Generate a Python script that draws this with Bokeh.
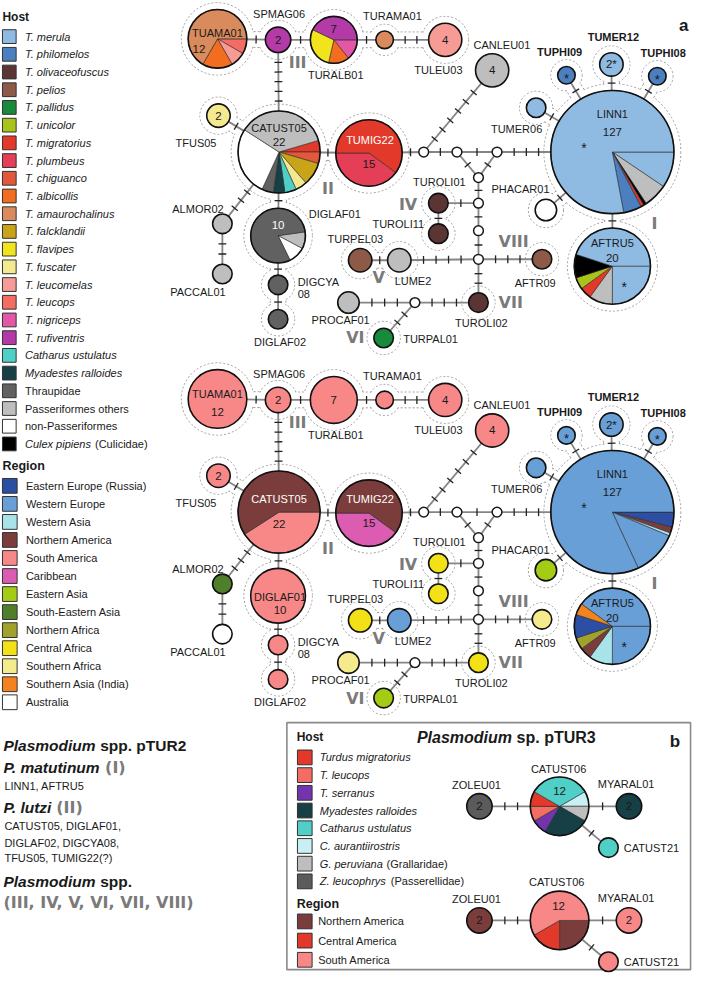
import math
from bokeh.plotting import figure
from bokeh.models import Range1d
from bokeh.core.properties import value
from bokeh.embed import file_html
from bokeh.resources import INLINE

# ======================= DATA =======================
host_names = ["T. merula", "T. philomelos", "T. olivaceofuscus", "T. pelios", "T. pallidus",
              "T. unicolor", "T. migratorius", "T. plumbeus", "T. chiguanco", "T. albicollis",
              "T. amaurochalinus", "T. falcklandii", "T. flavipes", "T. fuscater", "T. leucomelas",
              "T. leucops", "T. nigriceps", "T. rufiventris", "Catharus ustulatus",
              "Myadestes ralloides", "Thraupidae", "Passeriformes others", "non-Passeriformes",
              "Culex pipiens"]
host_colors = ["#8fbbe3", "#4b7fc0", "#5b3434", "#8e5a48", "#178a3c", "#a8c41c", "#e2392a",
               "#e53e57", "#e2583c", "#f26d1f", "#d98b5d", "#c9a318", "#f1e31c", "#f4e98e",
               "#f79b97", "#f36d63", "#e457a6", "#b43aa8", "#4fcfc5", "#163f46", "#616161",
               "#bebebe", "#ffffff", "#000000"]

region_names = ["Eastern Europe (Russia)", "Western Europe", "Western Asia", "Northern America",
                "South America", "Caribbean", "Eastern Asia", "South-Eastern Asia",
                "Northern Africa", "Central Africa", "Southern Africa", "Southern Asia (India)",
                "Australia"]
region_colors = ["#2c4ea3", "#689fd7", "#a9e3ea", "#7b3c3c", "#f88888", "#db5cb1", "#a4cc14",
                 "#4f7f2b", "#a0a22c", "#f1e116", "#f5eb8c", "#f3831f", "#ffffff"]

haplotypes = ["TUAMA01", "SPMAG06", "TURALB01", "TURAMA01", "TULEU03", "CANLEU01", "TFUS05",
              "CATUST05", "TUMIG22", "DIGLAF01", "DIGCYA08", "DIGLAF02", "ALMOR02", "PACCAL01",
              "TUROLI01", "TUROLI11", "TURPEL03", "LUME2", "PROCAF01", "TURPAL01", "TUROLI02",
              "AFTR09", "LINN1", "TUMER06", "TUPHI09", "TUMER12", "TUPHI08", "PHACAR01", "AFTRU5"]
hap_counts = [12, 2, 7, 1, 4, 4, 2, 22, 15, 10, 1, 1, 1, 1, 1, 1, 1, 1, 1, 1, 1, 1, 127, 1, 1, 2, 1, 1, 20]

# slices (category, count) in clockwise order, with starting angle (deg, clockwise from east)
host_slices = {
    "TUAMA01": (0, [("T. leucops", 1), ("T. leucomelas", 1), ("T. albicollis", 2), ("T. amaurochalinus", 8)]),
    "SPMAG06": (0, [("T. rufiventris", 2)]),
    "TURALB01": (0, [("T. nigriceps", 1), ("T. albicollis", 1), ("T. flavipes", 2), ("T. rufiventris", 3)]),
    "TURAMA01": (0, [("T. amaurochalinus", 1)]),
    "TULEU03": (0, [("T. leucomelas", 4)]),
    "CANLEU01": (0, [("Passeriformes others", 4)]),
    "TFUS05": (0, [("T. fuscater", 2)]),
    "CATUST05": (-16.4, [("T. migratorius", 1), ("T. chiguanco", 1), ("T. falcklandii", 2),
                         ("T. fuscater", 1), ("Catharus ustulatus", 1), ("Myadestes ralloides", 1),
                         ("Thraupidae", 1), ("non-Passeriformes", 6), ("Passeriformes others", 8)]),
    "TUMIG22": (36, [("T. plumbeus", 6), ("T. migratorius", 9)]),
    "DIGLAF01": (-8, [("Passeriformes others", 1), ("non-Passeriformes", 1), ("Thraupidae", 8)]),
    "DIGCYA08": (0, [("Thraupidae", 1)]),
    "DIGLAF02": (0, [("Thraupidae", 1)]),
    "ALMOR02": (0, [("Passeriformes others", 1)]),
    "PACCAL01": (0, [("Passeriformes others", 1)]),
    "TUROLI01": (0, [("T. olivaceofuscus", 1)]),
    "TUROLI11": (0, [("T. olivaceofuscus", 1)]),
    "TURPEL03": (0, [("T. pelios", 1)]),
    "LUME2": (0, [("Passeriformes others", 1)]),
    "PROCAF01": (0, [("Passeriformes others", 1)]),
    "TURPAL01": (0, [("T. pallidus", 1)]),
    "TUROLI02": (0, [("T. olivaceofuscus", 1)]),
    "AFTR09": (0, [("T. pelios", 1)]),
    "LINN1": (0, [("T. merula", 12), ("Passeriformes others", 8), ("Culex pipiens", 1),
                  ("T. migratorius", 1), ("T. philomelos", 6), ("T. merula", 99)]),
    "TUMER06": (0, [("T. merula", 1)]),
    "TUPHI09": (0, [("T. philomelos", 1)]),
    "TUMER12": (0, [("T. merula", 2)]),
    "TUPHI08": (0, [("T. philomelos", 1)]),
    "PHACAR01": (0, [("non-Passeriformes", 1)]),
    "AFTRU5": (0, [("T. merula", 5), ("Passeriformes others", 2), ("T. migratorius", 1),
                   ("T. unicolor", 1), ("Culex pipiens", 2), ("T. merula", 9)]),
}
region_slices = {
    "TUAMA01": (0, [("South America", 12)]),
    "SPMAG06": (0, [("South America", 2)]),
    "TURALB01": (0, [("South America", 7)]),
    "TURAMA01": (0, [("South America", 1)]),
    "TULEU03": (0, [("South America", 4)]),
    "CANLEU01": (0, [("South America", 4)]),
    "TFUS05": (0, [("South America", 2)]),
    "CATUST05": (0, [("South America", 9), ("Northern America", 13)]),
    "TUMIG22": (36, [("Caribbean", 6), ("Northern America", 9)]),
    "DIGLAF01": (0, [("South America", 10)]),
    "DIGCYA08": (0, [("South America", 1)]),
    "DIGLAF02": (0, [("South America", 1)]),
    "ALMOR02": (0, [("South-Eastern Asia", 1)]),
    "PACCAL01": (0, [("Australia", 1)]),
    "TUROLI01": (0, [("Central Africa", 1)]),
    "TUROLI11": (0, [("Central Africa", 1)]),
    "TURPEL03": (0, [("Central Africa", 1)]),
    "LUME2": (0, [("Western Europe", 1)]),
    "PROCAF01": (0, [("Southern Africa", 1)]),
    "TURPAL01": (0, [("Eastern Asia", 1)]),
    "TUROLI02": (0, [("Central Africa", 1)]),
    "AFTR09": (0, [("Southern Africa", 1)]),
    "LINN1": (0, [("Eastern Europe (Russia)", 5), ("Northern America", 2), ("Western Asia", 1),
                  ("Western Europe", 15), ("Western Europe", 104)]),
    "TUMER06": (0, [("Western Europe", 1)]),
    "TUPHI09": (0, [("Western Europe", 1)]),
    "TUMER12": (0, [("Western Europe", 2)]),
    "TUPHI08": (0, [("Western Europe", 1)]),
    "PHACAR01": (0, [("Eastern Asia", 1)]),
    "AFTRU5": (0, [("Western Europe", 5), ("Western Asia", 2), ("Northern America", 1),
                   ("Northern Africa", 1), ("Eastern Europe (Russia)", 2),
                   ("Southern Asia (India)", 1), ("Western Europe", 8)]),
}
# edges: (node, node, number of mutation steps)
edges_a = [("TUAMA01", "SPMAG06", 1), ("SPMAG06", "TURALB01", 1), ("TURALB01", "TURAMA01", 1),
           ("TURAMA01", "TULEU03", 2), ("SPMAG06", "CATUST05", 5), ("TFUS05", "CATUST05", 1),
           ("CATUST05", "TUMIG22", 1), ("CATUST05", "DIGLAF01", 1), ("DIGLAF01", "DIGCYA08", 1),
           ("DIGCYA08", "DIGLAF02", 1), ("CATUST05", "ALMOR02", 3), ("ALMOR02", "PACCAL01", 2),
           ("TUMIG22", "mv1", 1), ("mv1", "mv2", 1), ("mv2", "mv3", 1), ("mv3", "LINN1", 3),
           ("mv1", "CANLEU01", 6), ("mv2", "mv4", 1), ("mv3", "mv4", 1), ("mv4", "mv5", 1),
           ("mv5", "TUROLI01", 1), ("TUROLI01", "TUROLI11", 1), ("mv5", "mv6", 1),
           ("mv6", "mv7", 1), ("mv7", "TUROLI02", 2), ("mv7", "LUME2", 4),
           ("LUME2", "TURPEL03", 1), ("mv7", "AFTR09", 3), ("TUROLI02", "mv8", 3),
           ("mv8", "PROCAF01", 3), ("mv8", "TURPAL01", 2), ("LINN1", "TUMER06", 1),
           ("LINN1", "TUPHI09", 1), ("LINN1", "TUMER12", 1), ("LINN1", "TUPHI08", 1),
           ("LINN1", "PHACAR01", 1), ("LINN1", "AFTRU5", 1)]
clades = [["LINN1", "TUMER06", "TUPHI09", "TUMER12", "TUPHI08", "PHACAR01", "AFTRU5"],
          ["TFUS05", "CATUST05", "TUMIG22", "DIGLAF01", "DIGCYA08", "DIGLAF02"],
          ["TUAMA01", "SPMAG06", "TURALB01", "TURAMA01", "TULEU03"],
          ["TUROLI01", "TUROLI11"], ["TURPEL03", "LUME2"], ["TURPAL01"], ["TUROLI02"], ["AFTR09"]]
clade_numerals = ["I", "II", "III", "IV", "V", "VI", "VII", "VIII"]

# panel b
b_host_names = ["Turdus migratorius", "T. leucops", "T. serranus", "Myadestes ralloides",
                "Catharus ustulatus", "C. aurantiirostris", "G. peruviana", "Z. leucophrys"]
b_host_suffix = ["", "", "", "", "", "", "(Grallaridae)", "(Passerellidae)"]
b_host_colors = ["#e2392a", "#f36d63", "#7434ae", "#163f46", "#4fcfc5", "#c8eff3", "#bebebe", "#5b5b5b"]
b_region_names = ["Northern America", "Central America", "South America"]
b_region_colors = ["#7b3c3c", "#e2392a", "#f88888"]
b_haplotypes = ["ZOLEU01", "CATUST06", "MYARAL01", "CATUST21"]
b_counts = [2, 12, 2, 1]
b_host_slices = {
    "ZOLEU01": (0, [("Z. leucophrys", 2)]),
    "CATUST06": (-30, [("C. aurantiirostris", 1), ("G. peruviana", 1), ("Myadestes ralloides", 3),
                       ("T. serranus", 1), ("T. leucops", 1), ("Turdus migratorius", 1),
                       ("Catharus ustulatus", 4)]),
    "MYARAL01": (0, [("Myadestes ralloides", 2)]),
    "CATUST21": (0, [("Catharus ustulatus", 1)]),
}
b_region_slices = {
    "ZOLEU01": (0, [("Northern America", 2)]),
    "CATUST06": (0, [("Northern America", 3), ("Central America", 2), ("South America", 7)]),
    "MYARAL01": (0, [("South America", 2)]),
    "CATUST21": (0, [("South America", 1)]),
}
edges_b = [("ZOLEU01", "CATUST06", 2), ("CATUST06", "MYARAL01", 1), ("CATUST06", "CATUST21", 1)]

# ======================= LAYOUT (positions / sizes) =======================
pos_a = {
    "TUAMA01": (222, 39), "SPMAG06": (284, 40), "TURALB01": (341, 40), "TURAMA01": (393, 40),
    "TULEU03": (455, 40), "CANLEU01": (503, 71), "TFUS05": (223, 117), "CATUST05": (285, 154),
    "TUMIG22": (377, 155), "DIGLAF01": (284, 239), "DIGCYA08": (284, 289), "DIGLAF02": (284, 324),
    "ALMOR02": (227, 227), "PACCAL01": (227, 278), "TUROLI01": (448, 206), "TUROLI11": (448, 237),
    "TURPEL03": (368, 264), "LUME2": (408, 264), "PROCAF01": (356, 307), "TURPAL01": (392, 343),
    "TUROLI02": (489, 307), "AFTR09": (554, 263), "LINN1": (626, 154), "TUMER06": (548, 109),
    "TUPHI09": (579, 76), "TUMER12": (625, 65), "TUPHI08": (672, 77), "PHACAR01": (558, 213),
    "AFTRU5": (626, 270),
    "mv1": (433, 154), "mv2": (467, 154), "mv3": (508, 154), "mv4": (489, 180),
    "mv5": (489, 206), "mv6": (489, 234), "mv7": (489, 263), "mv8": (424, 307),
}
rad_a = {"TUAMA01": 30, "SPMAG06": 13, "TURALB01": 24, "TURAMA01": 9, "TULEU03": 17,
         "CANLEU01": 17, "TFUS05": 12, "CATUST05": 42, "TUMIG22": 34, "DIGLAF01": 28,
         "DIGCYA08": 10, "DIGLAF02": 10, "ALMOR02": 10, "PACCAL01": 10, "TUROLI01": 10,
         "TUROLI11": 10, "TURPEL03": 12, "LUME2": 12, "PROCAF01": 11, "TURPAL01": 10,
         "TUROLI02": 10, "AFTR09": 10, "LINN1": 63, "TUMER06": 10, "TUPHI09": 9, "TUMER12": 12,
         "TUPHI08": 9, "PHACAR01": 11, "AFTRU5": 39}
pos_b = {"ZOLEU01": (490, 819), "CATUST06": (572, 819), "MYARAL01": (643, 819), "CATUST21": (622, 861)}
rad_b = {"ZOLEU01": 13, "CATUST06": 30, "MYARAL01": 13, "CATUST21": 10}
numeral_pos = {"I": (669, 227), "II": (335, 191), "III": (304, 63), "IV": (417, 207),
               "V": (387, 282), "VI": (363, 343), "VII": (522, 307), "VIII": (525, 245)}
DY_A = 366
DY_B = 116

FONT = "Liberation Sans"
HALO = "#8e8e8e"
EDGE = "#858585"
NUMERAL = "#7a7a7a"

host_cmap = dict(zip(host_names, host_colors))
region_cmap = dict(zip(region_names, region_colors))
b_host_cmap = dict(zip(b_host_names, b_host_colors))
b_region_cmap = dict(zip(b_region_names, b_region_colors))

p = figure(width=693, height=977, x_range=Range1d(0, 709), y_range=Range1d(993, 0),
           output_backend="svg", toolbar_location=None, x_axis_type=None, y_axis_type=None,
           min_border=0, outline_line_color=None, background_fill_color="white")
p.grid.visible = False


def txt(x, y, s, size=11, style="normal", color="#1a1a1a", align="center", font=FONT):
    p.text(x=[x], y=[y], text=[s], text_font=value(font), text_font_size=value(f"{size}px"),
           text_font_style=style, text_color=color, text_align=align, text_baseline="middle")


def draw_net(pos, rad, edges, slices, cmap, dy, groups):
    P = {k: (v[0], v[1] + dy) for k, v in pos.items()}
    R = {k: rad.get(k, 5) for k in P}
    # ---- halos around clades ----
    if groups:
        hx, hy, hr = [], [], []
        lx0, ly0, lx1, ly1 = [], [], [], []
        mx0, my0, mx1, my1 = [], [], [], []
        for g in groups:
            for n in g:
                hx.append(P[n][0]); hy.append(P[n][1]); hr.append(R[n] + 7)
            for a, b, _ in edges:
                if a in g and b in g:
                    (x0, y0), (x1, y1) = P[a], P[b]
                    L = math.hypot(x1 - x0, y1 - y0)
                    ux, uy = (x1 - x0) / L, (y1 - y0) / L
                    vx, vy = -uy, ux
                    for s in (-8, 8):
                        lx0.append(x0 + s * vx); ly0.append(y0 + s * vy)
                        lx1.append(x1 + s * vx); ly1.append(y1 + s * vy)
                    mx0.append(x0); my0.append(y0); mx1.append(x1); my1.append(y1)
        p.circle(x=hx, y=hy, radius=hr, fill_color=None, line_color=HALO, line_width=0.9,
                 line_dash="2 2")
        if lx0:
            p.segment(x0=lx0, y0=ly0, x1=lx1, y1=ly1, line_color=HALO, line_width=0.9,
                      line_dash="2 2")
        p.circle(x=hx, y=hy, radius=[r - 0.6 for r in hr], fill_color="white", line_color=None)
        if mx0:
            p.segment(x0=mx0, y0=my0, x1=mx1, y1=my1, line_color="white", line_width=14.2)
    # ---- edges ----
    ex0, ey0, ex1, ey1 = [], [], [], []
    tx0, ty0, tx1, ty1 = [], [], [], []
    for a, b, n in edges:
        (x0, y0), (x1, y1) = P[a], P[b]
        ex0.append(x0); ey0.append(y0); ex1.append(x1); ey1.append(y1)
        L = math.hypot(x1 - x0, y1 - y0)
        ux, uy = (x1 - x0) / L, (y1 - y0) / L
        vx, vy = -uy, ux
        s0, s1 = R[a], L - R[b]
        for i in range(n):
            t = s0 + (s1 - s0) * (i + 1) / (n + 1)
            cx, cy = x0 + ux * t, y0 + uy * t
            tx0.append(cx - 4 * vx); ty0.append(cy - 4 * vy)
            tx1.append(cx + 4 * vx); ty1.append(cy + 4 * vy)
    p.segment(x0=ex0, y0=ey0, x1=ex1, y1=ey1, line_color=EDGE, line_width=1.8)
    p.segment(x0=tx0, y0=ty0, x1=tx1, y1=ty1, line_color="#222222", line_width=1.3)
    # ---- median vectors ----
    meds = [k for k in P if k not in slices]
    if meds:
        p.circle(x=[P[k][0] for k in meds], y=[P[k][1] for k in meds], radius=5,
                 fill_color="white", line_color="#1a1a1a", line_width=1.5)
    # ---- pies ----
    cx, cy, cr, cc = [], [], [], []
    wx, wy, wr, wa0, wa1, wc = [], [], [], [], [], []
    for k, (start, parts) in slices.items():
        x, y = P[k]
        if len(parts) == 1:
            cx.append(x); cy.append(y); cr.append(R[k]); cc.append(cmap[parts[0][0]])
            continue
        tot = sum(c for _, c in parts)
        a = start
        for cat, c in parts:
            w = 360.0 * c / tot
            wx.append(x); wy.append(y); wr.append(R[k])
            wa0.append(-math.radians(a + w)); wa1.append(-math.radians(a))
            wc.append(cmap[cat])
            a += w
    if cx:
        p.circle(x=cx, y=cy, radius=cr, fill_color=cc, line_color=None)
    if wx:
        p.wedge(x=wx, y=wy, radius=wr, start_angle=wa0, end_angle=wa1, direction="anticlock",
                fill_color=wc, line_color="#2a2a2a", line_width=0.6)
    ks = list(slices.keys())
    p.circle(x=[P[k][0] for k in ks], y=[P[k][1] for k in ks], radius=[R[k] for k in ks],
             fill_color=None, line_color="#111111", line_width=1.6)
    return P


# ---------------- panel a networks ----------------
draw_net(pos_a, rad_a, edges_a, host_slices, host_cmap, 0, clades)
draw_net(pos_a, rad_a, edges_a, region_slices, region_cmap, DY_A, clades)

ext_labels = [("SPMAG06", 285, 14), ("TURAMA01", 401, 16), ("TURALB01", 343, 76),
              ("TULEU03", 448, 71), ("CANLEU01", 513, 45), ("TFUS05", 200, 145),
              ("ALMOR02", 202, 212), ("PACCAL01", 202, 296), ("DIGLAF02", 286, 347),
              ("TUROLI01", 449, 184), ("TUROLI11", 407, 227), ("TURPEL03", 363, 242),
              ("LUME2", 422, 285), ("PROCAF01", 348, 325), ("TURPAL01", 440, 344),
              ("TUROLI02", 492, 328), ("AFTR09", 547, 287), ("TUMER06", 528, 131),
              ("PHACAR01", 532, 192)]
bold_labels = [("TUPHI09", 572, 52), ("TUMER12", 627, 37), ("TUPHI08", 678, 53)]

for dy in (0, DY_A):
    for s, x, y in ext_labels:
        txt(x, y + dy, s)
    txt(304, 286 + dy, "DIGCYA", align="left")
    txt(304, 298 + dy, "08", align="left")
    for s, x, y in bold_labels:
        txt(x, y + dy, s, style="bold")
    for num in clade_numerals:
        x, y = numeral_pos[num]
        txt(x, y + dy, num, size=16, style="bold", color=NUMERAL, font="DejaVu Sans")
    # common internal labels
    for k in ("SPMAG06", "TULEU03", "CANLEU01", "TFUS05"):
        x, y = pos_a[k]
        txt(x, y + dy, str(hap_counts[haplotypes.index(k)]), size=11.5)
    txt(626, 115 + dy, "LINN1")
    txt(626, 134 + dy, "127", size=11.5)
    txt(597, 150 + dy, "*", size=14)
    txt(579, 79 + dy, "*", size=13)
    txt(672, 80 + dy, "*", size=13)
    txt(625, 65 + dy, "2*", size=11.5)
    txt(626, 246 + dy, "AFTRU5")
    txt(626, 262 + dy, "20", size=11.5)
    txt(638, 291 + dy, "*", size=14)

# top-only internal labels
txt(342, 217, "DIGLAF01")
txt(222, 33, "TUAMA01")
txt(203, 49, "12", size=11.5)
txt(341, 29, "7", size=11.5)
txt(285, 130, "CATUST05")
txt(285, 144, "22", size=11.5)
txt(378, 142, "TUMIG22", color="white")
txt(377, 166, "15", size=11.5)
txt(284, 228, "10", size=11.5, color="white")
# bottom-only internal labels
txt(222, 400, "TUAMA01")
txt(222, 418, "12", size=11.5)
txt(341, 406, "7", size=11.5)
txt(285, 507, "CATUST05", color="white")
txt(285, 532, "22", size=11.5)
txt(378, 507, "TUMIG22", color="white")
txt(377, 531, "15", size=11.5)
txt(286, 606, "DIGLAF01")
txt(286, 619, "10", size=11.5)

txt(699, 25, "a", size=17, style="bold")

# ---------------- left legends ----------------
txt(2, 17, "Host", size=12, style="bold", align="left")
hys = [36.7 + 18.0 * i for i in range(len(host_names))]
p.rect(x=[9] * len(host_names), y=hys, width=14, height=14, fill_color=host_colors,
       line_color="#333333", line_width=1)
for i, nm in enumerate(host_names):
    st = "normal" if nm in ("Thraupidae", "Passeriformes others", "non-Passeriformes") else "italic"
    txt(25, hys[i], nm, style=st, align="left")
txt(96.7, hys[-1], "(Culicidae)", align="left")

txt(2, 473, "Region", size=12.5, style="bold", align="left")
rys = [493.3 + 18.33 * i for i in range(len(region_names))]
p.rect(x=[9.5] * len(region_names), y=rys, width=15, height=15, fill_color=region_colors,
       line_color="#333333", line_width=1)
for i, nm in enumerate(region_names):
    txt(26, rys[i], nm, align="left")

# ---------------- species text block ----------------
txt(3, 757, "Plasmodium", size=15.5, style="bold italic", align="left")
txt(102, 757, "spp. pTUR2", size=15.5, style="bold", align="left")
txt(3, 780, "P. matutinum", size=15.5, style="bold italic", align="left")
txt(107, 780, "(I)", size=16, style="bold", color=NUMERAL, align="left", font="DejaVu Sans")
txt(4, 798, "LINN1, AFTRU5", align="left")
txt(3, 820, "P. lutzi", size=15.5, style="bold italic", align="left")
txt(57, 820, "(II)", size=16, style="bold", color=NUMERAL, align="left", font="DejaVu Sans")
txt(4, 839, "CATUST05, DIGLAF01,", align="left")
txt(4, 856, "DIGLAF02, DIGCYA08,", align="left")
txt(4, 872, "TFUS05, TUMIG22(?)", align="left")
txt(3, 895, "Plasmodium", size=15.5, style="bold italic", align="left")
txt(102, 895, "spp.", size=15.5, style="bold", align="left")
txt(3, 917, "(III, IV, V, VI, VII, VIII)", size=16, style="bold", color=NUMERAL,
    align="left", font="DejaVu Sans")

# ---------------- panel b ----------------
p.quad(left=[293], right=[706], top=[734], bottom=[985], fill_color=None,
       line_color="#8a8a8a", line_width=1.6)
txt(303, 749, "Host", size=12, style="bold", align="left")
bhy = [769.3 + 18.0 * i for i in range(len(b_host_names))]
p.rect(x=[311.3] * len(b_host_names), y=bhy, width=15, height=15, fill_color=b_host_colors,
       line_color="#333333", line_width=1)
for i, nm in enumerate(b_host_names):
    txt(326.7, bhy[i], nm, style="italic", align="left")
txt(395, bhy[6], b_host_suffix[6], align="left")
txt(399.3, bhy[7], b_host_suffix[7], align="left")
txt(303, 918, "Region", size=12.5, style="bold", align="left")
bry = [936 + 19.5 * i for i in range(len(b_region_names))]
p.rect(x=[311.3] * len(b_region_names), y=bry, width=15, height=15, fill_color=b_region_colors,
       line_color="#333333", line_width=1)
for i, nm in enumerate(b_region_names):
    txt(325, bry[i], nm, align="left")

txt(426, 749, "Plasmodium", size=16, style="bold italic", align="left")
txt(528, 749, "sp. pTUR3", size=16, style="bold", align="left")
txt(690, 753, "b", size=17, style="bold")

draw_net(pos_b, rad_b, edges_b, b_host_slices, b_host_cmap, 0, None)
draw_net(pos_b, rad_b, edges_b, b_region_slices, b_region_cmap, DY_B, None)
for dy in (0, DY_B):
    txt(487, 797 + dy, "ZOLEU01")
    txt(640, 796 + dy, "MYARAL01")
    txt(637.7, 861.5 + dy, "CATUST21", align="left")
    txt(490, 819 + dy, "2", size=11.5)
    txt(643, 819 + dy, "2", size=11.5)
txt(571, 781, "CATUST06")
txt(572, 803, "12", size=11.5)
txt(569, 896, "CATUST06")
txt(571, 920, "12", size=11.5)

open("out.html", "w").write(file_html(p, INLINE))
